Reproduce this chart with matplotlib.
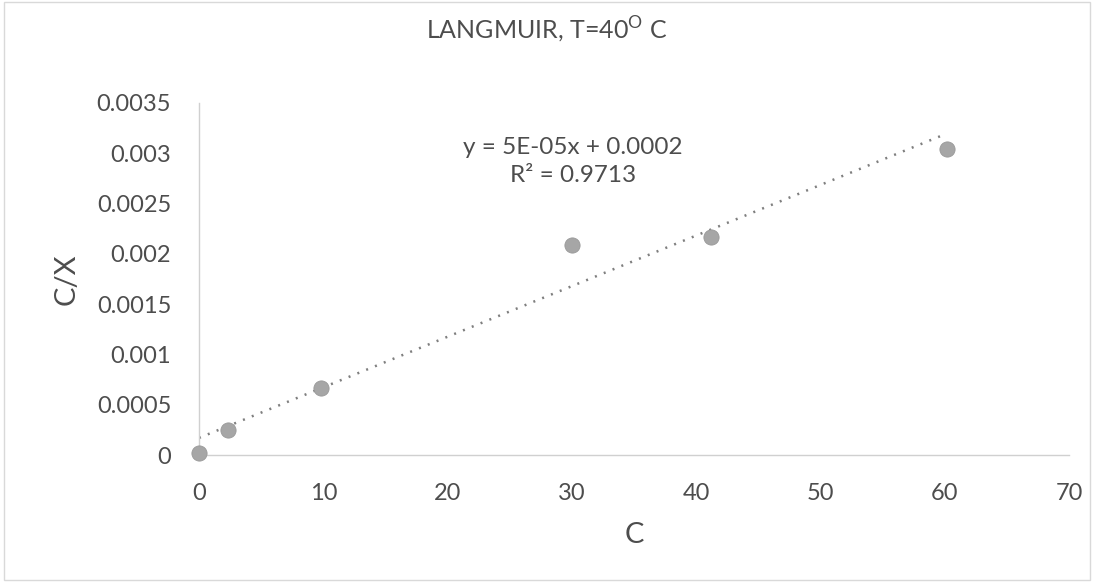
import numpy as np
import matplotlib
matplotlib.use("Agg")
import matplotlib.pyplot as plt

# data
c_vals = [0.0, 2.3, 9.8, 30.0, 41.2, 60.2]
cx_vals = [0.00002, 0.00025, 0.00067, 0.00209, 0.00217, 0.00304]
x_ticks = [0, 10, 20, 30, 40, 50, 60, 70]
y_ticks = [0, 0.0005, 0.001, 0.0015, 0.002, 0.0025, 0.003, 0.0035]
y_tick_labels = ["0", "0.0005", "0.001", "0.0015", "0.002", "0.0025", "0.003", "0.0035"]
trend_slope = 5.03e-5
trend_icept = 0.00017

plt.rcParams["font.family"] = ["Lato", "DejaVu Sans"]
plt.rcParams["mathtext.fontset"] = "custom"
plt.rcParams["mathtext.rm"] = "Lato"

text_col = "#4d4d4d"
fig = plt.figure(figsize=(10.94, 5.82), dpi=100)
ax = fig.add_axes([199 / 1094, 1 - 455 / 582, 870 / 1094, 352 / 582])

ax.scatter(c_vals, cx_vals, s=120, color="#a6a6a6", edgecolor="#999999", linewidth=0.6,
           zorder=3, clip_on=False)
tx = np.array([0, 60.0])
ax.plot(tx, trend_icept + trend_slope * tx, color="#7f7f7f", lw=1.8,
        linestyle=(0, (0.8, 3.0)), zorder=2)

ax.set_xlim(0, 70)
ax.set_ylim(0, 0.0035)
ax.set_xticks(x_ticks)
ax.set_yticks(y_ticks)
ax.set_yticklabels(y_tick_labels)
ax.tick_params(length=0, labelsize=17, colors=text_col)
ax.tick_params(axis="y", pad=20)
ax.tick_params(axis="x", pad=20)
for side in ("top", "right"):
    ax.spines[side].set_visible(False)
for side in ("left", "bottom"):
    ax.spines[side].set_color("#d0d0d0")
    ax.spines[side].set_linewidth(1.0)

ax.set_xlabel("C", fontsize=21, color=text_col, labelpad=13)
ax.set_ylabel("C/X", fontsize=21, color=text_col, labelpad=12)

fig.text(0.5, 1 - 30 / 582, r"LANGMUIR, T=40$^\mathrm{O}$ C", ha="center", va="center",
         fontsize=18, color=text_col)
ax.text(30.1, 0.00292, "y = 5E-05x + 0.0002\nR² = 0.9713", ha="center", va="center",
        fontsize=17.5, color=text_col, linespacing=1.45)

# chart area frame
fig.patches.append(plt.Rectangle((0.004, 0.004), 0.992, 0.992, transform=fig.transFigure,
                                 fill=False, edgecolor="#d9d9d9", lw=1))

fig.savefig("out.png", dpi=100)
